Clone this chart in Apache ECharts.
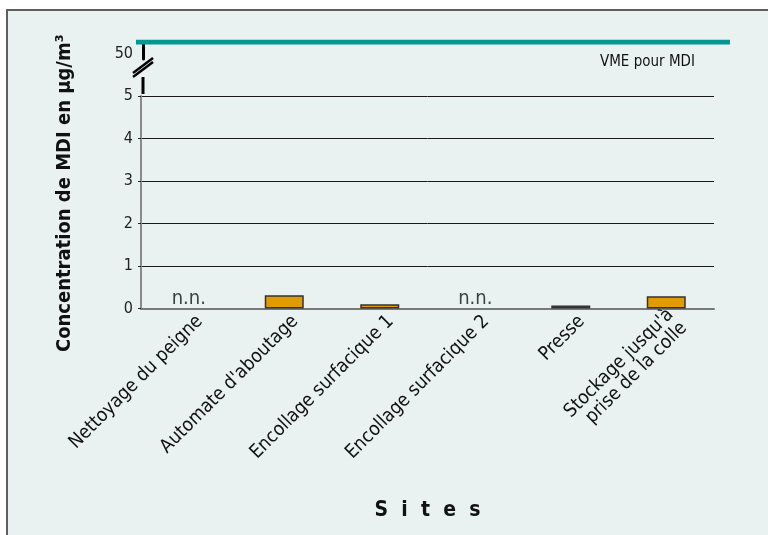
<!DOCTYPE html>
<html>
<head>
<meta charset="utf-8">
<script src="https://cdn.jsdelivr.net/npm/echarts@6/dist/echarts.min.js"></script>
<style>
  html, body { margin: 0; padding: 0; background: #fff; }
  #chart { width: 768px; height: 535px; }
</style>
</head>
<body>
<div id="chart"></div>
<script>
// Concentration de MDI par site (µg/m3), n.n. = non detecte
var sites = ['Nettoyage du peigne', "Automate d'aboutage", 'Encollage surfacique 1',
    'Encollage surfacique 2', 'Presse', "Stockage jusqu'à\nprise de la colle"];
var valeurs = [null, 0.31, 0.1, null, 0.07, 0.29];
var yTicks = [0, 1, 2, 3, 4, 5];
var vme = 50;
var vmeLabel = 'VME pour MDI';

var police = "'DejaVu Sans Condensed', 'Liberation Sans Narrow', sans-serif";

document.addEventListener('DOMContentLoaded', function () {
    var chartDom = document.getElementById('chart');
    var myChart = echarts.init(chartDom);
    var option;

    // point "n.n." pour les sites sans valeur
    var nnData = valeurs.map(function (v) { return v == null ? 0 : '-'; });

    option = {
        backgroundColor: '#ffffff',
        animation: false,
        graphic: [
            {
                type: 'rect', z: -100, silent: true,
                shape: { x: 7, y: 10, width: 780, height: 540 },
                style: { fill: '#e9f2f0', stroke: '#5e5e5e', lineWidth: 2 }
            },
            // coupure de l'axe
            { type: 'line', shape: { x1: 143, y1: 77, x2: 143, y2: 94 }, style: { stroke: '#000', lineWidth: 3 } },
            { type: 'line', shape: { x1: 133, y1: 73, x2: 153, y2: 58 }, style: { stroke: '#000', lineWidth: 2.5 } },
            { type: 'line', shape: { x1: 133, y1: 77, x2: 153, y2: 62 }, style: { stroke: '#000', lineWidth: 2.5 } },
            {
                type: 'text', left: 600, top: 55,
                style: { text: vmeLabel, fontFamily: police, fontSize: 15, fill: '#111' }
            }
        ],
        grid: [
            { left: 141, right: 54, top: 96, bottom: 226.5 },
            { left: 136, right: 38, top: 42, height: 17 },
            // libelles des sites, decales un peu a droite
            { left: 152, right: 43, top: 96, bottom: 226.5 }
        ],
        xAxis: [
            {
                type: 'category',
                gridIndex: 0,
                data: sites,
                name: 'S  i  t  e  s',
                nameLocation: 'middle',
                nameGap: 192,
                nameTextStyle: { fontFamily: police, fontSize: 21, fontWeight: 'bold', color: '#111' },
                axisLine: { lineStyle: { color: '#7a7a7a', width: 2 } },
                axisTick: { length: 6, lineStyle: { color: '#333', width: 2 } },
                axisLabel: { show: false }
            },
            { type: 'value', gridIndex: 1, min: 0, max: 1, show: false },
            {
                type: 'category',
                gridIndex: 2,
                data: sites,
                axisLine: { show: false },
                axisTick: { show: false },
                axisLabel: {
                    interval: 0, rotate: 45, margin: 10,
                    fontFamily: police, fontSize: 19, color: '#111', lineHeight: 19
                }
            }
        ],
        yAxis: [
            {
                type: 'value',
                gridIndex: 0,
                min: yTicks[0],
                max: yTicks[yTicks.length - 1],
                interval: 1,
                name: 'Concentration de MDI en µg/m³',
                nameLocation: 'middle',
                nameGap: 66,
                nameTextStyle: {
                    fontFamily: police, fontSize: 20, fontWeight: 'bold', color: '#111',
                    padding: [0, 0, 0, 18]
                },
                axisLine: { show: true, lineStyle: { color: '#8a8a8a', width: 2 } },
                axisTick: { show: true, length: 3, lineStyle: { color: '#222' } },
                axisLabel: { fontFamily: police, fontSize: 16, color: '#222', margin: 8 },
                splitLine: { lineStyle: { color: '#1a1a1a', width: 1 } }
            },
            {
                type: 'value',
                gridIndex: 1,
                min: 46, max: vme, interval: 4,
                offset: -7,
                axisLine: { show: true, lineStyle: { color: '#000', width: 3 } },
                axisTick: { show: false },
                splitLine: { show: false },
                axisLabel: {
                    fontFamily: police, fontSize: 16, color: '#222', margin: 10,
                    verticalAlign: 'top', padding: [4, 0, 0, 0],
                    formatter: function (v) { return v === vme ? String(vme) : ''; }
                }
            },
            { type: 'value', gridIndex: 2, min: 0, max: 5, show: false }
        ],
        series: [
            {
                type: 'bar',
                xAxisIndex: 0, yAxisIndex: 0,
                data: valeurs,
                barWidth: 39,
                itemStyle: { color: '#e09b00', borderColor: '#333333', borderWidth: 1.5 }
            },
            {
                type: 'scatter',
                xAxisIndex: 0, yAxisIndex: 0,
                data: nnData,
                symbolSize: 0,
                label: {
                    show: true, position: 'top', distance: 0,
                    formatter: 'n.n.',
                    fontFamily: police, fontSize: 20, color: '#111'
                }
            },
            {
                type: 'line',
                xAxisIndex: 1, yAxisIndex: 1,
                data: [[0, vme], [1, vme]],
                showSymbol: false,
                lineStyle: { color: '#009890', width: 5, cap: 'butt' }
            }
        ]
    };

    option && myChart.setOption(option);
});
</script>
</body>
</html>
